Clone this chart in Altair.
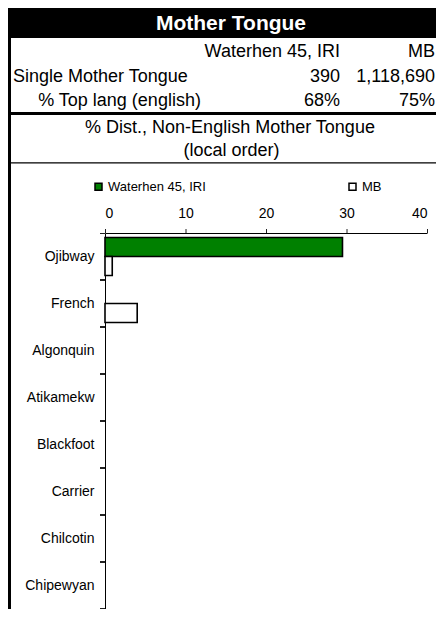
import altair as alt
import pandas as pd

FONT = "Liberation Sans"

# ---- data ----
title_text = "Mother Tongue"
series_names = ["Waterhen 45, IRI", "MB"]
single_mother_tongue = [390, 1118690]
top_lang_pct = [68, 75]
row_labels = ["Single Mother Tongue", "% Top lang (english)"]
subtitle_lines = ["% Dist., Non-English Mother Tongue", "(local order)"]

languages = ["Ojibway", "French", "Algonquin", "Atikamekw", "Blackfoot",
             "Carrier", "Chilcotin", "Chipewyan"]
waterhen_pct = [29.5, 0, 0, 0, 0, 0, 0, 0]
mb_pct = [0.9, 4.0, 0, 0, 0, 0, 0, 0]
x_ticks = [0, 10, 20, 30, 40]

rows = []
for lang, w, m in zip(languages, waterhen_pct, mb_pct):
    rows.append({"lang": lang, "series": series_names[0], "value": w})
    rows.append({"lang": lang, "series": series_names[1], "value": m})
df = pd.DataFrame(rows)
df_lang = pd.DataFrame({"lang": languages})
df_xt = pd.DataFrame({"v": x_ticks})

W, H = 322, 376
RIGHT = 331  # right edge of the drawing, relative to the plot origin


def one():
    return pd.DataFrame({"a": [0]})


def rect(x, x2, y, y2, color="black"):
    return alt.Chart(one()).mark_rect(color=color).encode(
        x=alt.value(x), x2=alt.value(x2), y=alt.value(y), y2=alt.value(y2))


def txt(s, x, y, align="left", size=18, weight="normal", color="black"):
    return alt.Chart(pd.DataFrame({"t": [s]})).mark_text(
        align=align, baseline="alphabetic", font=FONT, fontSize=size,
        fontWeight=weight, color=color).encode(
        x=alt.value(x), y=alt.value(y), text="t:N")


decor = [
    rect(-97, RIGHT, -225, -195),               # header background
    rect(-97, -94, -195, H),                    # left border
    rect(-97, RIGHT, -121, -118),               # thick separator
    rect(-97, RIGHT, -70.8, -69.5),             # thin separator
    txt(title_text, 126, -203.5, "center", 21, "bold", "white"),
    txt(series_names[0], 235, -176, "right"),
    txt(series_names[1], 330, -176, "right"),
    txt(row_labels[0], -92, -151, "left"),
    txt(f"{single_mother_tongue[0]:,}", 235, -151, "right"),
    txt(f"{single_mother_tongue[1]:,}", 330, -151, "right"),
    txt(row_labels[1], 14.5, -127, "center"),
    txt(f"{top_lang_pct[0]}%", 235, -127, "right"),
    txt(f"{top_lang_pct[1]}%", 330, -127, "right"),
    txt(subtitle_lines[0], 125, -100, "center"),
    txt(subtitle_lines[1], 126.5, -77, "center"),
]

y_scale = alt.Scale(domain=languages, paddingInner=0, paddingOuter=0)
x_scale = alt.Scale(domain=[0, 40], nice=False, zero=True)

bars = alt.Chart(df).transform_filter("datum.value > 0").mark_bar(
    stroke="black", strokeWidth=1.6).encode(
    x=alt.X("value:Q", scale=x_scale,
            axis=alt.Axis(orient="top", values=x_ticks, grid=False, title=None,
                          ticks=False, labelPadding=13,
                          domainColor="black", labelColor="black",
                          labelFont=FONT, labelFontSize=14)),
    y=alt.Y("lang:N", sort=languages, scale=y_scale,
            axis=alt.Axis(orient="left", title=None, ticks=False,
                          labelPadding=11, domainColor="black",
                          labelColor="black",
                          labelFont=FONT, labelFontSize=14)),
    yOffset=alt.YOffset("series:N", sort=series_names,
                        scale=alt.Scale(domain=series_names, paddingInner=0,
                                        paddingOuter=0.24)),
    color=alt.Color("series:N", sort=series_names,
                    scale=alt.Scale(domain=series_names,
                                    range=["#008000", "#ffffff"]),
                    legend=alt.Legend(orient="none", legendX=-13, legendY=-53,
                                      direction="horizontal", title=None,
                                      symbolType="square", symbolSize=49,
                                      symbolStrokeColor="black",
                                      symbolStrokeWidth=1.5,
                                      labelFont=FONT, labelFontSize=13,
                                      labelColor="black", labelOffset=3,
                                      columnPadding=140, padding=0)),
)

# category-boundary ticks on the y axis (start and end of every band)
y_ticks_start = alt.Chart(df_lang).mark_rule(
    color="#222222", strokeWidth=1, yOffset=0.5).encode(
    y=alt.Y("lang:N", sort=languages, scale=y_scale, bandPosition=0),
    x=alt.value(-5), x2=alt.value(0))
y_ticks_end = alt.Chart(df_lang).mark_rule(
    color="#222222", strokeWidth=1, yOffset=-0.5).encode(
    y=alt.Y("lang:N", sort=languages, scale=y_scale, bandPosition=1),
    x=alt.value(-5), x2=alt.value(0))

# value ticks on the top axis
x_tick_marks = alt.Chart(df_xt).mark_rule(
    color="#222222", strokeWidth=1, xOffset=0.5).encode(
    x=alt.X("v:Q", scale=x_scale),
    y=alt.value(-4), y2=alt.value(0))

chart = alt.layer(*decor, bars, y_ticks_start, y_ticks_end,
                  x_tick_marks).properties(
    width=W, height=H,
    autosize=alt.AutoSizeParams(type="none"),
    padding={"left": 97, "top": 225, "right": 9, "bottom": 0},
    background="white",
).configure_view(stroke=None)

chart.save("out.html", embed_options={"renderer": "svg", "actions": False})
